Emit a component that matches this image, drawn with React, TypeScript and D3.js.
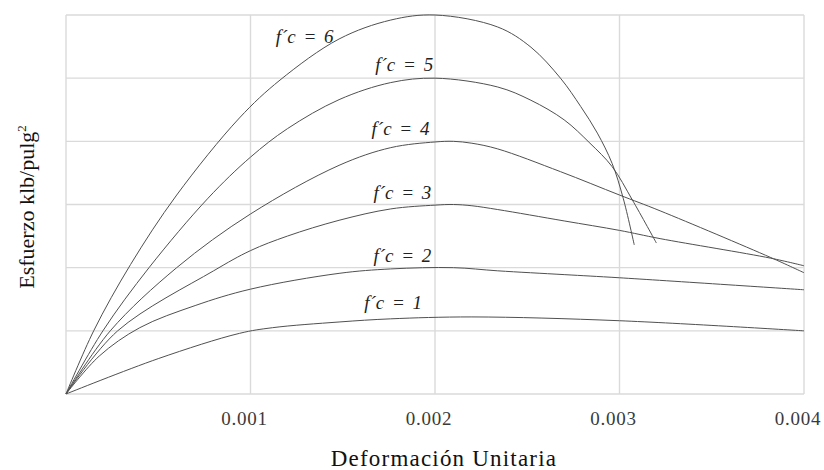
import React, { useEffect, useRef } from 'react';
import * as d3 from 'd3';

// valores: deformacion unitaria vs esfuerzo (klb/pulg2)
const strainTicks = [0.001, 0.002, 0.003, 0.004];
const strainGrid = [0, 0.001, 0.002, 0.003, 0.004];
const stressGrid = [0, 1, 2, 3, 4, 5, 6];

const fc1Strain = [0, 0.0005, 0.00094, 0.00112, 0.00148, 0.00176, 0.0022, 0.003, 0.004];
const fc1Stress = [0, 0.56, 0.96, 1.05, 1.14, 1.19, 1.22, 1.16, 1.0];

const fc2Strain = [0, 0.00018, 0.0004, 0.0007, 0.001, 0.00148, 0.00176, 0.0021, 0.00234, 0.0027, 0.003, 0.004];
const fc2Stress = [0, 0.6, 1.05, 1.4, 1.66, 1.91, 1.98, 2.0, 1.95, 1.89, 1.84, 1.65];

const fc3Strain = [0, 0.00028, 0.0008, 0.001, 0.0012, 0.00148, 0.00176, 0.002, 0.0021, 0.0022, 0.00234, 0.0027, 0.003, 0.00322, 0.00382, 0.004];
const fc3Stress = [0, 1.0, 1.95, 2.27, 2.5, 2.75, 2.93, 2.99, 3.0, 2.98, 2.92, 2.74, 2.59, 2.46, 2.15, 2.03];

const fc4Strain = [0, 0.00024, 0.0006, 0.001, 0.00148, 0.00176, 0.002, 0.0021, 0.0022, 0.00234, 0.00268, 0.003, 0.00322, 0.00382, 0.004];
const fc4Stress = [0, 1.0, 2.0, 2.85, 3.62, 3.9, 3.99, 4.0, 3.97, 3.88, 3.52, 3.15, 2.9, 2.16, 1.92];

const fc5Strain = [0, 0.0002, 0.00045, 0.00077, 0.001, 0.0012, 0.00148, 0.00176, 0.002, 0.00234, 0.00252, 0.0027, 0.00284, 0.00296, 0.00307, 0.0032];
const fc5Stress = [0, 1.0, 2.0, 3.1, 3.75, 4.2, 4.66, 4.93, 5.0, 4.86, 4.65, 4.34, 3.97, 3.6, 3.07, 2.39];

const fc6Strain = [0, 0.00015, 0.00035, 0.0006, 0.00094, 0.00116, 0.00148, 0.00176, 0.002, 0.00234, 0.00252, 0.00268, 0.00279, 0.00288, 0.00296, 0.00302, 0.00308];
const fc6Stress = [0, 1.0, 2.05, 3.15, 4.37, 4.97, 5.62, 5.92, 6.0, 5.81, 5.49, 5.0, 4.55, 4.13, 3.65, 3.1, 2.36];

const curveLabels = ['f´c = 1', 'f´c = 2', 'f´c = 3', 'f´c = 4', 'f´c = 5', 'f´c = 6'];
// ancla (extremo derecho, linea base) de cada etiqueta en unidades del grafico
const labelStrain = [0.00193, 0.00198, 0.00198, 0.00197, 0.00199, 0.00145];
const labelStress = [1.35, 2.09, 3.09, 4.1, 5.11, 5.56];

export default function App() {
  const ref = useRef<SVGSVGElement>(null);

  useEffect(() => {
    const svg = d3.select(ref.current);
    svg.selectAll('*').remove();

    const margin = { top: 15, right: 20, bottom: 76, left: 66 };
    const width = 824;
    const height = 470;

    const x = d3.scaleLinear().domain([0, 0.004]).range([margin.left, width - margin.right]);
    const y = d3.scaleLinear().domain([0, 6]).range([height - margin.bottom, margin.top]);

    const font = '"Liberation Serif", "Times New Roman", serif';

    // rejilla
    const grid = svg.append('g').attr('stroke', '#dadada').attr('stroke-width', 1.4);
    grid.selectAll('line.v')
      .data(strainGrid)
      .join('line')
        .attr('class', 'v')
        .attr('x1', d => x(d)).attr('x2', d => x(d))
        .attr('y1', y(0)).attr('y2', y(6));
    grid.selectAll('line.h')
      .data(stressGrid)
      .join('line')
        .attr('class', 'h')
        .attr('x1', x(0)).attr('x2', x(0.004))
        .attr('y1', d => y(d)).attr('y2', d => y(d));

    // curvas
    const series = [
      [fc1Strain, fc1Stress],
      [fc2Strain, fc2Stress],
      [fc3Strain, fc3Stress],
      [fc4Strain, fc4Stress],
      [fc5Strain, fc5Stress],
      [fc6Strain, fc6Stress],
    ].map(([s, f]) => s.map((e, i) => [e, f[i]] as [number, number]));

    const line = d3.line<[number, number]>()
      .x(d => x(d[0]))
      .y(d => y(d[1]))
      .curve(d3.curveCatmullRom.alpha(0.5));

    svg.append('g')
      .selectAll('path')
      .data(series)
      .join('path')
        .attr('d', d => line(d))
        .attr('fill', 'none')
        .attr('stroke', '#505050')
        .attr('stroke-width', 1);

    // etiquetas de curvas
    svg.append('g')
      .selectAll('text')
      .data(curveLabels)
      .join('text')
        .attr('x', (d, i) => x(labelStrain[i]))
        .attr('y', (d, i) => y(labelStress[i]))
        .attr('text-anchor', 'end')
        .attr('font-family', font)
        .attr('font-style', 'italic')
        .attr('font-size', 19)
        .attr('word-spacing', 3)
        .attr('fill', '#222')
        .text(d => d);

    // marcas del eje x
    svg.append('g')
      .selectAll('text')
      .data(strainTicks)
      .join('text')
        .attr('x', d => x(d) - 6)
        .attr('y', 425)
        .attr('text-anchor', 'middle')
        .attr('font-family', font)
        .attr('font-size', 19)
        .attr('letter-spacing', 0.8)
        .attr('fill', '#3a3a3a')
        .text(d => d3.format('.3f')(d));

    svg.append('text')
      .attr('x', 444)
      .attr('y', 466)
      .attr('text-anchor', 'middle')
      .attr('font-family', font)
      .attr('font-size', 23)
      .attr('letter-spacing', 1.2)
      .attr('fill', '#111')
      .text('Deformación Unitaria');

    const yt = svg.append('text')
      .attr('transform', `translate(34,${207}) rotate(-90)`)
      .attr('text-anchor', 'middle')
      .attr('font-family', font)
      .attr('font-size', 22)
      .attr('fill', '#111');
    yt.append('tspan').text('Esfuerzo klb/pulg');
    yt.append('tspan').attr('dy', -8).attr('font-size', 13).text('2');
  }, []);

  return (
    <svg
      ref={ref}
      width={824}
      height={470}
      style={{ position: 'absolute', left: 0, top: 0, background: '#fff' }}
    />
  );
}
